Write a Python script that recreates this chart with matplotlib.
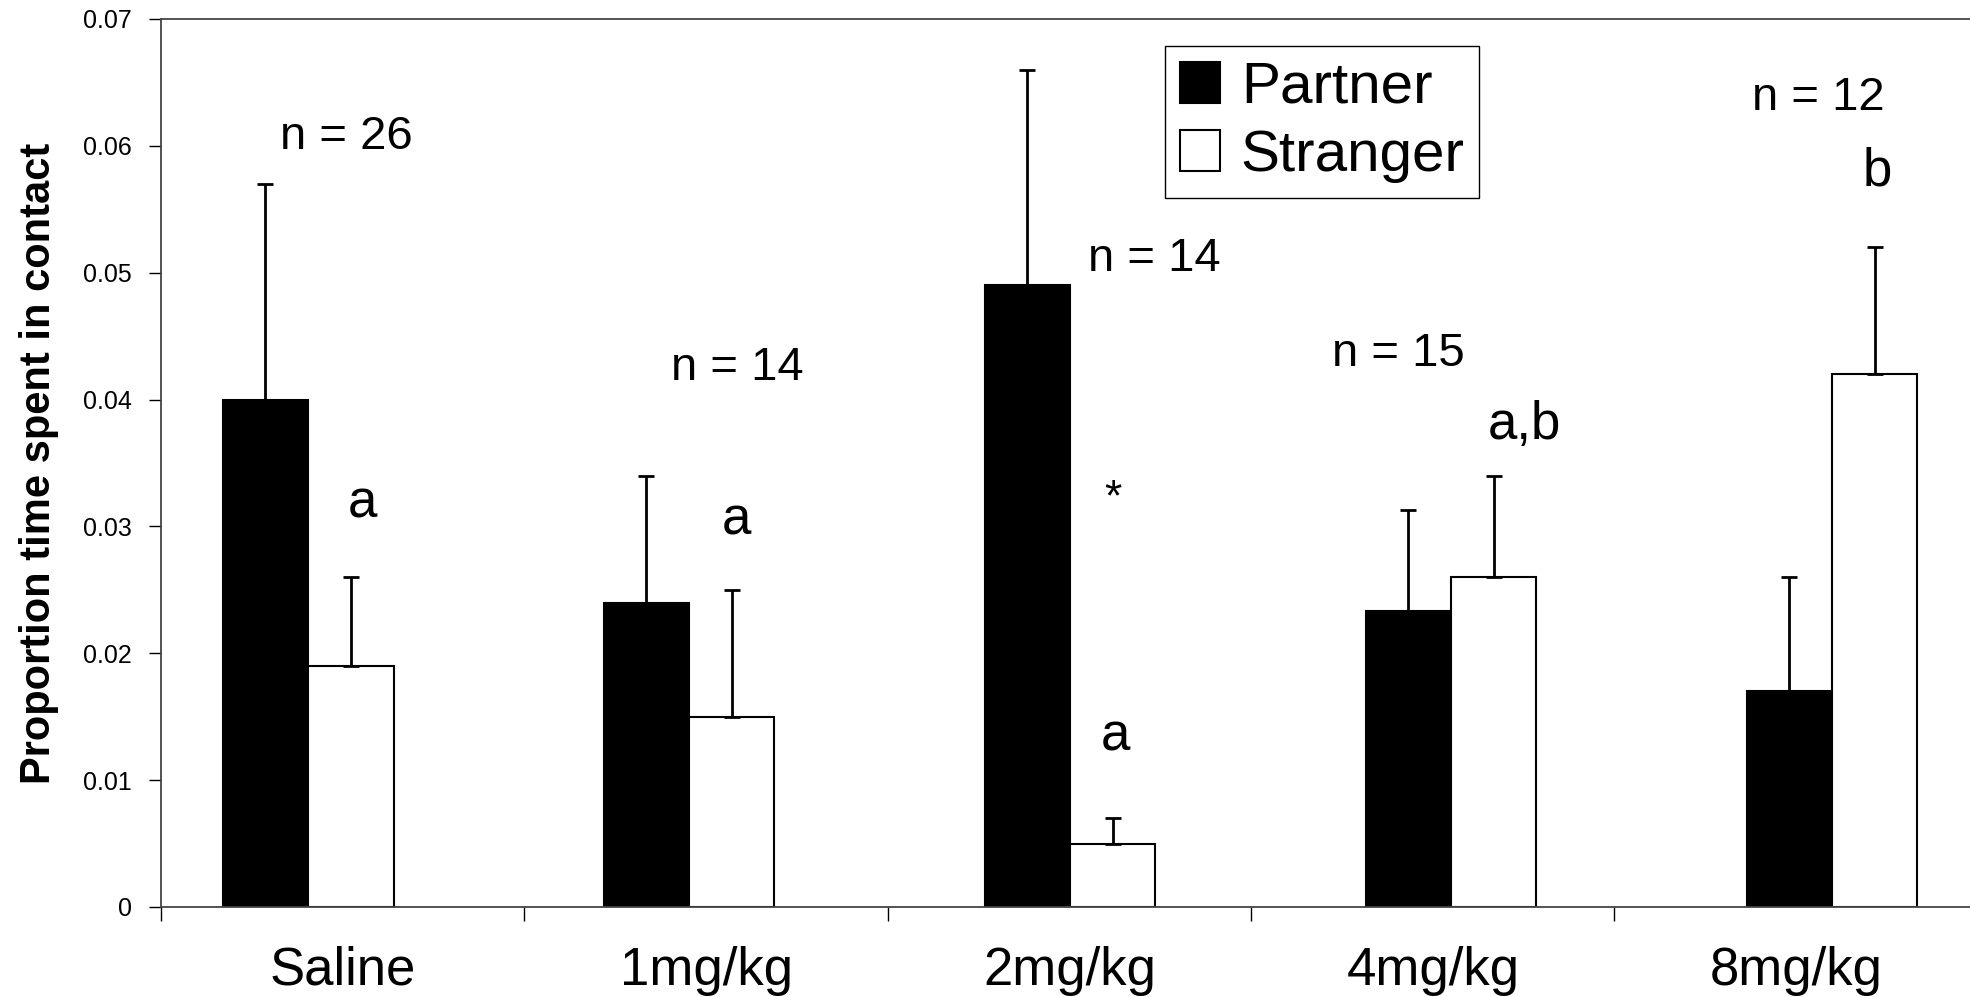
import matplotlib.pyplot as plt
from matplotlib import font_manager
import numpy as np

# Données
groupes = ["Saline", "1mg/kg", "2mg/kg", "4mg/kg", "8mg/kg"]
partner = [0.040, 0.024, 0.049, 0.0233, 0.017]
partner_err = [0.017, 0.010, 0.017, 0.008, 0.009]
stranger = [0.019, 0.015, 0.005, 0.026, 0.042]
stranger_err = [0.007, 0.010, 0.002, 0.008, 0.010]
effectifs = ["n = 26", "n = 14", "n = 14", "n = 15", "n = 12"]
lettres = ["a", "a", "a", "a,b", "b"]

noms = {f.name for f in font_manager.fontManager.ttflist}
police = "Liberation Sans" if "Liberation Sans" in noms else "DejaVu Sans"
plt.rcParams["font.family"] = [police, "DejaVu Sans"]

fig = plt.figure(figsize=(19.7, 9.97), dpi=100)
ax = fig.add_axes([0.0817, 0.0903, 1.004 - 0.0817, 0.981 - 0.0903])

# Les paires de barres sont un peu décalées par rapport aux graduations
centres = 0.405 + np.arange(len(groupes)) * 1.0484
largeur = 0.235

ax.bar(centres - largeur / 2, partner, largeur, color="black", edgecolor="black",
       linewidth=1.5, label="Partner", zorder=2)
ax.bar(centres + largeur / 2, stranger, largeur, color="white", edgecolor="black",
       linewidth=1.5, label="Stranger", zorder=2)
ax.errorbar(centres - largeur / 2, partner, yerr=[np.zeros(5), partner_err],
            fmt="none", ecolor="black", elinewidth=2, capsize=6, capthick=2, zorder=3)
ax.errorbar(centres + largeur / 2, stranger, yerr=[np.zeros(5), stranger_err],
            fmt="none", ecolor="black", elinewidth=2, capsize=6, capthick=2, zorder=3)

# Annotations n = ... et lettres
pos_n = [(0.509, 0.0607), (1.585, 0.0425), (2.734, 0.0511), (3.405, 0.0436), (4.561, 0.0638)]
pos_l = [(0.554, 0.0318), (1.585, 0.0305), (2.626, 0.0134), (3.751, 0.0380), (4.723, 0.0580)]
for (x, y), t in zip(pos_n, effectifs):
    ax.text(x, y, t, ha="center", va="center", fontsize=34)
for (x, y), t in zip(pos_l, lettres):
    ax.text(x, y, t, ha="center", va="center", fontsize=38)
ax.text(2.619, 0.0322, "*", ha="center", va="center", fontsize=32)

ax.set_xlim(0, 5)
ax.set_ylim(0, 0.07)
ax.set_yticks(np.arange(0, 0.071, 0.01))
ax.set_yticklabels(["0"] + ["%.2f" % v for v in np.arange(0.01, 0.071, 0.01)])
ax.tick_params(axis="y", length=9, width=1, pad=12, labelsize=18, direction="out")

ax.set_xticks(np.arange(0, 6))
ax.set_xticklabels([])
ax.set_xticks(np.arange(len(groupes)) + 0.5, minor=True)
ax.set_xticklabels(groupes, minor=True, fontsize=38)
ax.tick_params(axis="x", which="major", length=10, width=1, direction="out")
ax.tick_params(axis="x", which="minor", length=0, pad=28)

for s in ["left", "bottom", "top"]:
    ax.spines[s].set_linewidth(1.3)
    ax.spines[s].set_color("#444444")
ax.spines["right"].set_visible(False)

ax.set_ylabel("Proportion time spent in contact", fontsize=30, fontweight="bold")
ax.yaxis.set_label_coords(-0.056, 0.5)

leg = ax.legend(loc="upper left", bbox_to_anchor=(1165 / 1970, 1 - 46 / 997),
                bbox_transform=fig.transFigure, fontsize=42, fancybox=False,
                edgecolor="black", framealpha=1, handlelength=0.7, handleheight=0.7,
                handletextpad=0.35, borderpad=0.25, labelspacing=0.25, borderaxespad=0)
leg.get_frame().set_linewidth(1)

fig.savefig("out.png", dpi=100)
